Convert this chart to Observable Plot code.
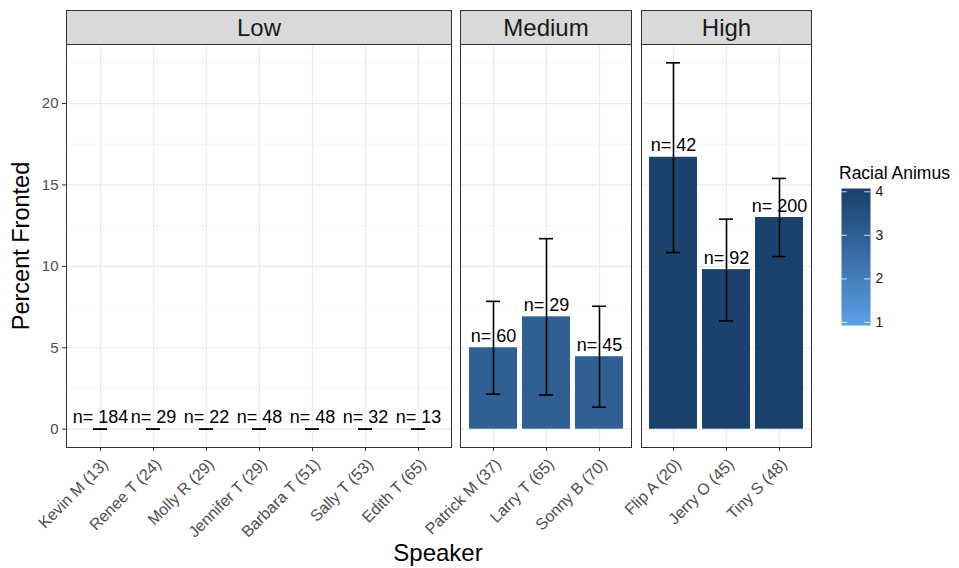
<!DOCTYPE html>
<html><head><meta charset="utf-8">
<script src="https://cdn.jsdelivr.net/npm/d3@7"></script>
<script src="https://cdn.jsdelivr.net/npm/@observablehq/plot@0.6"></script>
<style>
body{margin:0;background:#fff;font-family:"Liberation Sans",Arial,Helvetica,sans-serif;}
#root{position:relative;width:959px;height:568px;overflow:hidden;}
.abs{position:absolute;}
.strip{position:absolute;background:#d9d9d9;border:1px solid #333;box-sizing:border-box;text-align:center;font-size:24px;color:#1a1a1a;line-height:33px;}
svg{overflow:visible}
</style></head><body><div id="root"></div>
<script>
// ---- data ----
const levels = ["Low", "Medium", "High"];
const speakers = ["Kevin M (13)", "Renee T (24)", "Molly R (29)", "Jennifer T (29)", "Barbara T (51)", "Sally T (53)", "Edith T (65)",
  "Patrick M (37)", "Larry T (65)", "Sonny B (70)",
  "Flip A (20)", "Jerry O (45)", "Tiny S (48)"];
const speakerLevel = ["Low", "Low", "Low", "Low", "Low", "Low", "Low", "Medium", "Medium", "Medium", "High", "High", "High"];
const percentFronted = [0, 0, 0, 0, 0, 0, 0, 5.0, 6.9, 4.45, 16.7, 9.8, 13.0];
const lowerCI = [0, 0, 0, 0, 0, 0, 0, 2.15, 2.1, 1.35, 10.85, 6.65, 10.6];
const upperCI = [0, 0, 0, 0, 0, 0, 0, 7.85, 11.7, 7.55, 22.5, 12.9, 15.4];
const nTokens = [184, 29, 22, 48, 48, 32, 13, 60, 29, 45, 42, 92, 200];
const racialAnimus = [1, 1, 1, 1, 1, 1, 1, 3, 3, 3, 4, 4, 4];
const yTicks = [0, 5, 10, 15, 20];
const yMinor = [2.5, 7.5, 12.5, 17.5, 22.5];
const legendTicks = [1, 2, 3, 4];

const rows = speakers.map((s, i) => ({speaker: s, level: speakerLevel[i], percent: percentFronted[i],
  lower: lowerCI[i], upper: upperCI[i], n: nTokens[i], animus: racialAnimus[i]}));

// ---- layout ----
const FONT = '"Liberation Sans", Arial, Helvetica, sans-serif';
const panelLeft = [66, 460, 641];
const panelWidth = [385, 171, 170];
const panelTop = 44, panelBottom = 447, H = 568;
const yDomain = [-1.125, 23.625];
const colorOpts = {type: "linear", domain: [1, 4], range: ["#5c9fe6", "#1a426d"], interpolate: "lab", clamp: true};

const root = document.getElementById("root");

levels.forEach((lv, i) => {
  const d = rows.filter(r => r.level === lv);
  const ml = i === 0 ? panelLeft[0] : 0;
  const chart = Plot.plot({
    width: ml + panelWidth[i], height: H,
    marginLeft: ml, marginRight: 0, marginTop: panelTop, marginBottom: H - panelBottom,
    style: {fontFamily: FONT, overflow: "visible", background: "transparent"},
    x: {type: "band", domain: d.map(r => r.speaker), paddingInner: 0.1, paddingOuter: 0.15, axis: null},
    y: {domain: yDomain, axis: null},
    color: colorOpts,
    marks: [
      Plot.gridY(yMinor, {stroke: "#f3f3f3", strokeOpacity: 1, strokeWidth: 0.8}),
      Plot.gridY(yTicks, {stroke: "#ebebeb", strokeOpacity: 1, strokeWidth: 1.2}),
      Plot.gridX({stroke: "#ebebeb", strokeOpacity: 1, strokeWidth: 1.2}),
      Plot.barY(d, {x: "speaker", y: "percent", fill: "animus"}),
      Plot.ruleX(d, {x: "speaker", y1: "lower", y2: "upper", stroke: "black", strokeWidth: 1.6}),
      Plot.tickY(d, {x: "speaker", y: "lower", insetLeft: 17, insetRight: 17, stroke: "black", strokeWidth: 1.6}),
      Plot.tickY(d, {x: "speaker", y: "upper", insetLeft: 17, insetRight: 17, stroke: "black", strokeWidth: 1.6}),
      Plot.text(d, {x: "speaker", y: "percent", text: r => "n= " + r.n, lineAnchor: "bottom", dy: -6, fontSize: 18, fill: "black"}),
      Plot.frame({stroke: "#333", strokeWidth: 1}),
      Plot.axisX({tickRotate: -45, tickSize: 4, tickPadding: 3, fontSize: 16, fill: "#4d4d4d", stroke: "#333", label: null,
        textStroke: "none"}),
      i === 0 ? Plot.axisY({ticks: yTicks, tickSize: 4, tickPadding: 4, fontSize: 15, fill: "#4d4d4d", stroke: "#333", label: null}) : null
    ]
  });
  // shift rotated tick labels (down-right) to match ggplot's hjust/vjust placement
  chart.querySelectorAll('g[aria-label="x-axis tick label"] text').forEach(t => {
    const tr = t.getAttribute("transform") || "";
    t.setAttribute("transform", "translate(5,7) " + tr);
  });
  chart.style.position = "absolute";
  chart.style.left = (panelLeft[i] - ml) + "px";
  chart.style.top = "0px";
  root.appendChild(chart);

  const strip = document.createElement("div");
  strip.className = "strip";
  strip.style.left = panelLeft[i] + "px";
  strip.style.top = "10px";
  strip.style.width = (panelWidth[i] + 1) + "px";
  strip.style.height = "35px";
  strip.textContent = lv;
  root.appendChild(strip);
});

// axis titles
const yTitle = document.createElement("div");
yTitle.className = "abs";
yTitle.textContent = "Percent Fronted";
Object.assign(yTitle.style, {left: "21px", top: "246px", fontSize: "23.5px", color: "#000", whiteSpace: "nowrap",
  transform: "translate(-50%,-50%) rotate(-90deg)"});
root.appendChild(yTitle);

const xTitle = document.createElement("div");
xTitle.className = "abs";
xTitle.textContent = "Speaker";
Object.assign(xTitle.style, {left: "438px", top: "553px", fontSize: "24px", color: "#000", whiteSpace: "nowrap",
  transform: "translate(-50%,-50%)"});
root.appendChild(xTitle);

// legend
const legTitle = document.createElement("div");
legTitle.className = "abs";
legTitle.textContent = "Racial Animus";
Object.assign(legTitle.style, {left: "839px", top: "165px", fontSize: "17.5px", lineHeight: "1", color: "#000", whiteSpace: "nowrap"});
root.appendChild(legTitle);

const legDomain = [0.93, 4.075];
const legend = Plot.plot({
  width: 29 + 30, height: 137,
  marginLeft: 0, marginRight: 30, marginTop: 0, marginBottom: 0,
  style: {fontFamily: FONT, overflow: "visible", background: "transparent"},
  x: {domain: [0, 1], axis: null},
  y: {domain: legDomain, axis: null},
  color: colorOpts,
  marks: [
    Plot.raster({x1: 0, x2: 1, y1: legDomain[0], y2: legDomain[1], fill: (x, y) => y, width: 1, height: 137}),
    Plot.ruleY(legendTicks, {x1: 0, x2: 0.2, stroke: "white", strokeOpacity: 0.8}),
    Plot.ruleY(legendTicks, {x1: 0.8, x2: 1, stroke: "white", strokeOpacity: 0.8}),
    Plot.axisY({anchor: "right", ticks: legendTicks, tickFormat: d3.format("d"), tickSize: 0, tickPadding: 5, fontSize: 14, fill: "#1a1a1a", label: null})
  ]
});
legend.style.position = "absolute";
legend.style.left = "841px";
legend.style.top = "188px";
root.appendChild(legend);
</script>
</body></html>
